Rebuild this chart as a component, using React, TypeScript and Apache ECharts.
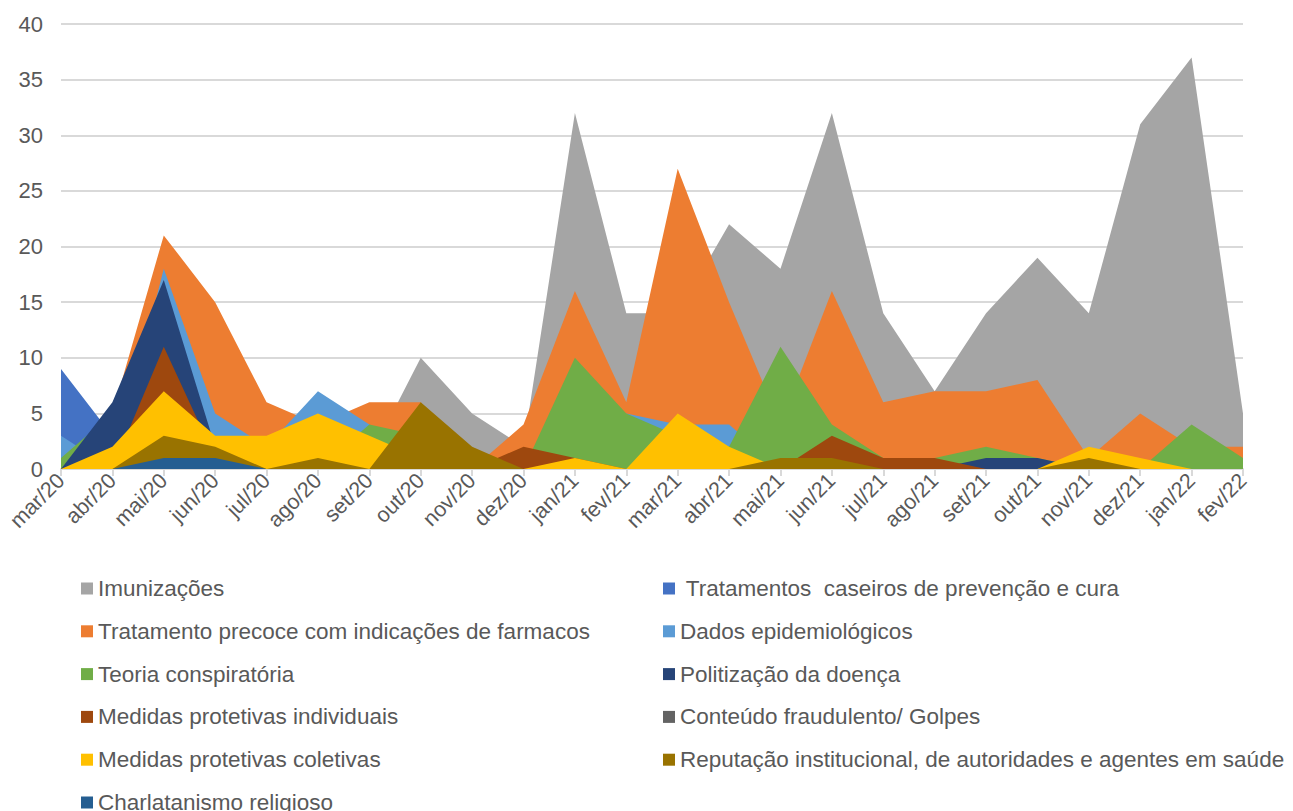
import React, { useEffect, useRef } from "react";
import * as echarts from "echarts";

const months = [
  "mar/20", "abr/20", "mai/20", "jun/20", "jul/20", "ago/20", "set/20", "out/20", "nov/20", "dez/20",
  "jan/21", "fev/21", "mar/21", "abr/21", "mai/21", "jun/21", "jul/21", "ago/21", "set/21", "out/21",
  "nov/21", "dez/21", "jan/22", "fev/22",
];

const imunizacoes = [0, 0, 0, 0, 0, 0, 1, 10, 5, 2, 32, 14, 14, 22, 18, 32, 14, 7, 14, 19, 14, 31, 37, 5];
const caseiros = [9, 3, 0, 0, 0, 0, 0, 0, 0, 0, 0, 0, 0, 0, 0, 0, 0, 0, 0, 0, 0, 0, 0, 0];
const precoce = [0, 5, 21, 15, 6, 4, 6, 6, 0, 4, 16, 6, 27, 15, 4, 16, 6, 7, 7, 8, 1, 5, 2, 2];
const dados = [3, 0, 18, 5, 2, 7, 4, 2, 1, 0, 3, 5, 4, 4, 0, 0, 0, 0, 0, 0, 0, 0, 0, 0];
const teoria = [1, 5, 4, 2, 1, 0, 4, 3, 1, 0, 10, 5, 3, 2, 11, 4, 1, 1, 2, 1, 0, 0, 4, 1];
const politizacao = [0, 6, 17, 2, 0, 0, 0, 0, 0, 0, 0, 0, 0, 0, 0, 0, 0, 0, 1, 1, 0, 0, 0, 0];
const individuais = [0, 0, 11, 1, 0, 0, 0, 0, 0, 2, 1, 0, 0, 0, 0, 3, 1, 1, 0, 0, 0, 0, 0, 0];
const fraudulento = [0, 0, 0, 0, 0, 0, 0, 0, 0, 0, 0, 0, 0, 0, 0, 0, 0, 0, 0, 0, 0, 0, 0, 0];
const coletivas = [0, 2, 7, 3, 3, 5, 3, 1, 0, 0, 1, 0, 5, 2, 0, 0, 0, 0, 0, 0, 2, 1, 0, 0];
const reputacao = [0, 0, 3, 2, 0, 1, 0, 6, 2, 0, 0, 0, 0, 0, 1, 1, 0, 0, 0, 0, 1, 0, 0, 0];
const charlatanismo = [0, 0, 1, 1, 0, 0, 0, 0, 0, 0, 0, 0, 0, 0, 0, 0, 0, 0, 0, 0, 0, 0, 0, 0];

const yTicks = { min: 0, max: 40, interval: 5 };

const seriesDefs = [
  { name: "Imunizações", data: imunizacoes, color: "#A5A5A5" },
  { name: " Tratamentos  caseiros de prevenção e cura", data: caseiros, color: "#4472C4" },
  { name: "Tratamento precoce com indicações de farmacos", data: precoce, color: "#ED7D31" },
  { name: "Dados epidemiológicos", data: dados, color: "#5B9BD5" },
  { name: "Teoria conspiratória", data: teoria, color: "#70AD47" },
  { name: "Politização da doença", data: politizacao, color: "#264478" },
  { name: "Medidas protetivas individuais", data: individuais, color: "#9E480E" },
  { name: "Conteúdo fraudulento/ Golpes", data: fraudulento, color: "#636363" },
  { name: "Medidas protetivas coletivas", data: coletivas, color: "#FFC000" },
  { name: "Reputação institucional, de autoridades e agentes em saúde", data: reputacao, color: "#997300" },
  { name: "Charlatanismo religioso", data: charlatanismo, color: "#255E91" },
];

const FONT = "'Liberation Sans', Arial, sans-serif";

export default function App() {
  const ref = useRef<HTMLDivElement>(null);
  useEffect(() => {
    if (!ref.current) return;
    const chart = echarts.init(ref.current, undefined, { renderer: "svg" });
    const leftNames = seriesDefs.filter((_, i) => i % 2 === 0).map((s) => s.name);
    const rightNames = seriesDefs.filter((_, i) => i % 2 === 1).map((s) => s.name);
    const legendCommon = {
      orient: "vertical" as const,
      top: 577,
      height: 260,
      padding: 0,
      icon: "rect",
      itemWidth: 12,
      itemHeight: 12,
      itemGap: 19.8,
      textStyle: { fontSize: 22.5, color: "#595959", fontFamily: FONT, lineHeight: 22 },
      selectedMode: false,
    };
    chart.setOption({
      animation: false,
      textStyle: { fontFamily: FONT },
      grid: { left: 61, right: 50, top: 24, bottom: 342, containLabel: false },
      legend: [
        { ...legendCommon, left: 81, data: leftNames },
        { ...legendCommon, left: 663, data: rightNames },
      ],
      xAxis: {
        type: "category",
        data: months,
        boundaryGap: false,
        axisLine: { show: true, lineStyle: { color: "#D9D9D9", width: 2 } },
        axisTick: { show: true, length: 7, lineStyle: { color: "#D9D9D9", width: 2 } },
        axisLabel: { rotate: 45, fontSize: 21.5, color: "#595959", margin: 8, fontFamily: FONT, interval: 0 },
        splitLine: { show: false },
      },
      yAxis: {
        type: "value",
        min: yTicks.min,
        max: yTicks.max,
        interval: yTicks.interval,
        axisLine: { show: false },
        axisTick: { show: false },
        axisLabel: { fontSize: 22, color: "#595959", margin: 18, fontFamily: FONT },
        splitLine: { show: true, lineStyle: { color: "#D9D9D9", width: 2 } },
      },
      series: seriesDefs.map((s) => ({
        name: s.name,
        type: "line",
        data: s.data,
        showSymbol: false,
        symbol: "none",
        lineStyle: { width: 0, color: s.color },
        itemStyle: { color: s.color },
        areaStyle: { color: s.color, opacity: 1 },
        emphasis: { disabled: true },
      })),
    });
    return () => chart.dispose();
  }, []);
  return (
    <div
      ref={ref}
      style={{ position: "fixed", left: 0, top: 0, width: 1293, height: 811, background: "#fff" }}
    />
  );
}
